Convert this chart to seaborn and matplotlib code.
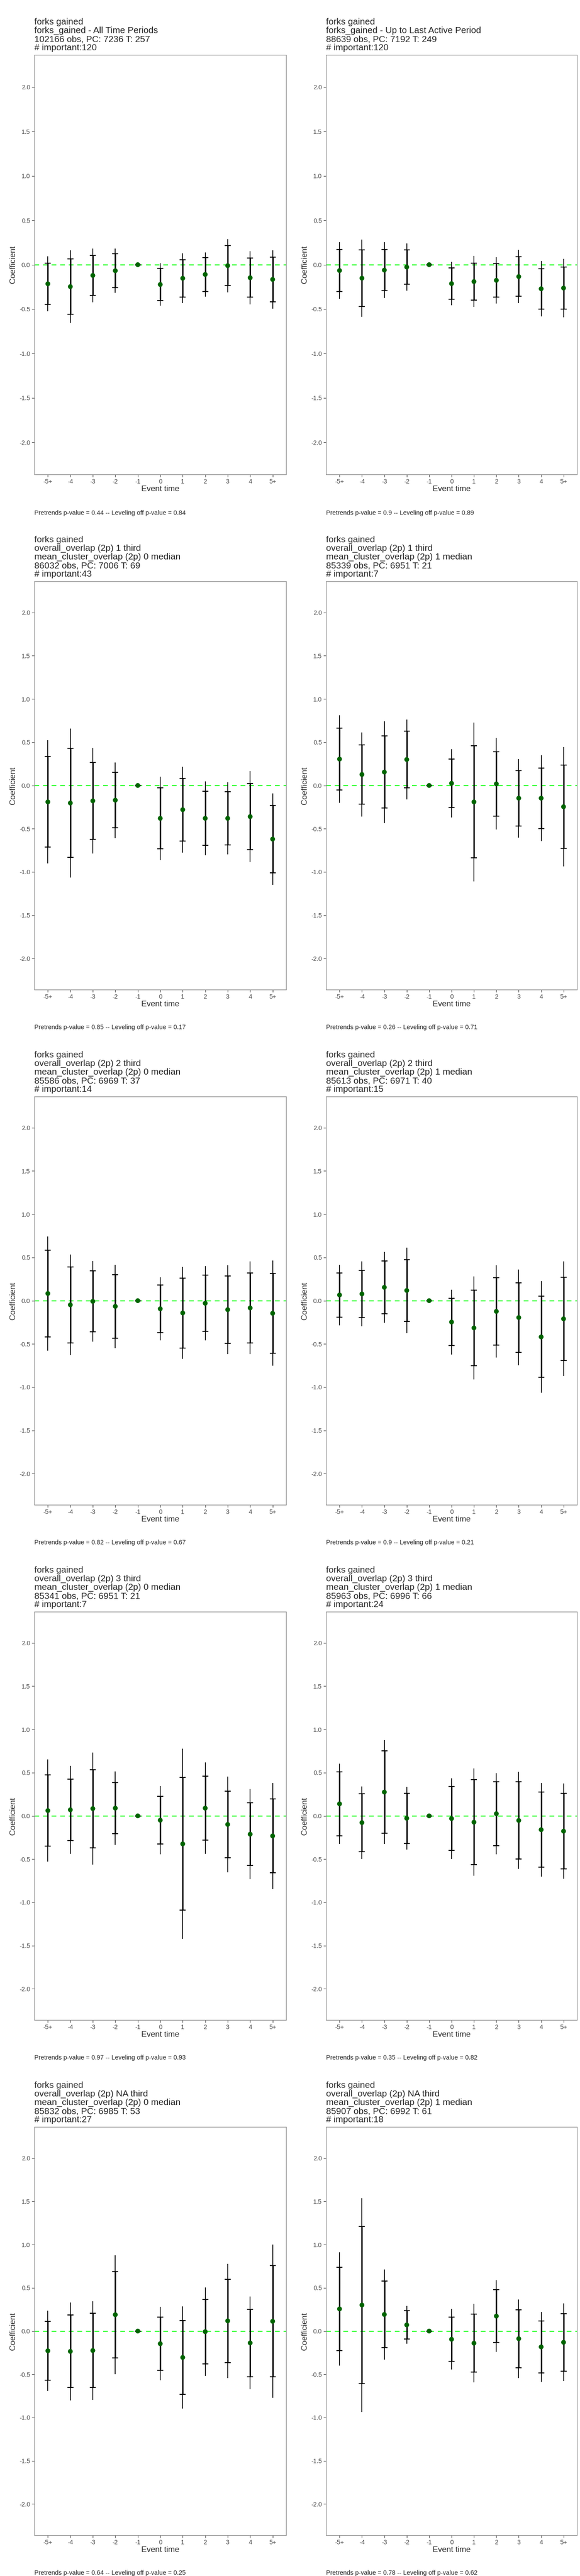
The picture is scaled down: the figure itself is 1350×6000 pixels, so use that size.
import matplotlib
matplotlib.use("Agg")
import matplotlib.pyplot as plt
import seaborn as sns
import pandas as pd

sns.set_theme(style="white")
plt.rcParams['font.family'] = ['Liberation Sans', 'DejaVu Sans']

event_labels = ["-5+", "-4", "-3", "-2", "-1", "0", "1", "2", "3", "4", "5+"]

titles = [
    "forks gained\nforks_gained - All Time Periods\n102166 obs, PC: 7236 T: 257\n# important:120",
    "forks gained\nforks_gained - Up to Last Active Period\n88639 obs, PC: 7192 T: 249\n# important:120",
    "forks gained\noverall_overlap (2p) 1 third\nmean_cluster_overlap (2p) 0 median\n86032 obs, PC: 7006 T: 69\n# important:43",
    "forks gained\noverall_overlap (2p) 1 third\nmean_cluster_overlap (2p) 1 median\n85339 obs, PC: 6951 T: 21\n# important:7",
    "forks gained\noverall_overlap (2p) 2 third\nmean_cluster_overlap (2p) 0 median\n85586 obs, PC: 6969 T: 37\n# important:14",
    "forks gained\noverall_overlap (2p) 2 third\nmean_cluster_overlap (2p) 1 median\n85613 obs, PC: 6971 T: 40\n# important:15",
    "forks gained\noverall_overlap (2p) 3 third\nmean_cluster_overlap (2p) 0 median\n85341 obs, PC: 6951 T: 21\n# important:7",
    "forks gained\noverall_overlap (2p) 3 third\nmean_cluster_overlap (2p) 1 median\n85963 obs, PC: 6996 T: 66\n# important:24",
    "forks gained\noverall_overlap (2p) NA third\nmean_cluster_overlap (2p) 0 median\n85832 obs, PC: 6985 T: 53\n# important:27",
    "forks gained\noverall_overlap (2p) NA third\nmean_cluster_overlap (2p) 1 median\n85907 obs, PC: 6992 T: 61\n# important:18",
]

pretrends_p = ["0.44", "0.9", "0.85", "0.26", "0.82", "0.9", "0.97", "0.35", "0.64", "0.78"]
leveling_p = ["0.84", "0.89", "0.17", "0.71", "0.67", "0.21", "0.93", "0.82", "0.25", "0.62"]

coef_1 = [-0.215, -0.247, -0.121, -0.068, 0, -0.223, -0.153, -0.11, -0.011, -0.147, -0.166]
inner_1 = [0.23, 0.31, 0.226, 0.19, 0, 0.18, 0.21, 0.19, 0.225, 0.22, 0.25]
outer_1 = [0.31, 0.41, 0.30, 0.25, 0, 0.24, 0.28, 0.25, 0.30, 0.30, 0.33]

coef_2 = [-0.066, -0.152, -0.061, -0.027, 0, -0.213, -0.19, -0.176, -0.134, -0.271, -0.263]
inner_2 = [0.236, 0.317, 0.231, 0.194, 0, 0.177, 0.208, 0.19, 0.223, 0.227, 0.238]
outer_2 = [0.32, 0.433, 0.315, 0.265, 0, 0.242, 0.287, 0.26, 0.30, 0.31, 0.328]

coef_3 = [-0.19, -0.203, -0.178, -0.17, 0, -0.38, -0.28, -0.38, -0.38, -0.36, -0.62]
inner_3 = [0.523, 0.63, 0.445, 0.32, 0, 0.352, 0.364, 0.311, 0.306, 0.383, 0.39]
outer_3 = [0.713, 0.863, 0.61, 0.437, 0, 0.48, 0.496, 0.426, 0.418, 0.525, 0.53]

coef_4 = [0.305, 0.127, 0.155, 0.30, 0, 0.025, -0.19, 0.018, -0.147, -0.147, -0.246]
inner_4 = [0.357, 0.343, 0.416, 0.327, 0, 0.28, 0.647, 0.373, 0.32, 0.35, 0.482]
outer_4 = [0.507, 0.485, 0.589, 0.461, 0, 0.394, 0.918, 0.528, 0.454, 0.495, 0.69]

coef_5 = [0.083, -0.048, -0.008, -0.066, 0, -0.094, -0.142, -0.03, -0.104, -0.084, -0.146]
inner_5 = [0.50, 0.44, 0.353, 0.367, 0, 0.275, 0.404, 0.326, 0.39, 0.406, 0.462]
outer_5 = [0.66, 0.58, 0.466, 0.48, 0, 0.363, 0.53, 0.43, 0.515, 0.536, 0.608]

coef_6 = [0.066, 0.078, 0.154, 0.118, 0, -0.247, -0.315, -0.124, -0.195, -0.419, -0.21]
inner_6 = [0.255, 0.273, 0.307, 0.357, 0, 0.272, 0.436, 0.39, 0.402, 0.469, 0.48]
outer_6 = [0.35, 0.375, 0.41, 0.493, 0, 0.374, 0.596, 0.534, 0.554, 0.646, 0.662]

coef_7 = [0.061, 0.07, 0.084, 0.089, 0, -0.05, -0.324, 0.089, -0.099, -0.212, -0.232]
inner_7 = [0.411, 0.354, 0.452, 0.295, 0, 0.275, 0.766, 0.371, 0.386, 0.363, 0.426]
outer_7 = [0.591, 0.509, 0.649, 0.423, 0, 0.393, 1.10, 0.53, 0.553, 0.52, 0.614]

coef_8 = [0.139, -0.078, 0.275, -0.028, 0, -0.031, -0.073, 0.025, -0.053, -0.16, -0.177]
inner_8 = [0.369, 0.334, 0.475, 0.291, 0, 0.371, 0.492, 0.372, 0.447, 0.434, 0.437]
outer_8 = [0.464, 0.42, 0.60, 0.364, 0, 0.466, 0.62, 0.468, 0.56, 0.54, 0.552]

coef_9 = [-0.228, -0.235, -0.225, 0.189, 0, -0.146, -0.305, -0.007, 0.118, -0.137, 0.113]
inner_9 = [0.339, 0.42, 0.43, 0.50, 0, 0.309, 0.428, 0.372, 0.481, 0.39, 0.643]
outer_9 = [0.465, 0.565, 0.57, 0.686, 0, 0.424, 0.59, 0.51, 0.66, 0.536, 0.886]

coef_10 = [0.256, 0.301, 0.192, 0.071, 0, -0.095, -0.14, 0.173, -0.088, -0.183, -0.13]
inner_10 = [0.483, 0.909, 0.384, 0.164, 0, 0.257, 0.336, 0.307, 0.334, 0.299, 0.332]
outer_10 = [0.657, 1.235, 0.52, 0.219, 0, 0.349, 0.455, 0.414, 0.453, 0.406, 0.449]

coefs = [coef_1, coef_2, coef_3, coef_4, coef_5, coef_6, coef_7, coef_8, coef_9, coef_10]
inners = [inner_1, inner_2, inner_3, inner_4, inner_5, inner_6, inner_7, inner_8, inner_9, inner_10]
outers = [outer_1, outer_2, outer_3, outer_4, outer_5, outer_6, outer_7, outer_8, outer_9, outer_10]

W, H = 1350, 6000
fig = plt.figure(figsize=(W / 100, H / 100), dpi=100)

col_x = [(80, 666), (759, 1343)]
row_tops = [128, 1354, 2554, 3754, 4954]
row_bottoms = [1105, 2305, 3505, 4705, 5905]

for i in range(10):
    r, c = divmod(i, 2)
    x0, x1 = col_x[c]
    top, bot = row_tops[r], row_bottoms[r]
    ax = fig.add_axes([x0 / W, 1 - bot / H, (x1 - x0) / W, (bot - top) / H])
    df = pd.DataFrame({"event": event_labels, "pos": range(11),
                       "coef": coefs[i], "inner": inners[i], "outer": outers[i]})
    ax.axhline(0, color="#00ff00", lw=1.6, ls=(0, (5, 4)), zorder=1)
    ax.errorbar(df["pos"], df["coef"], yerr=df["outer"], fmt="none",
                ecolor="black", elinewidth=1.3, capsize=0, zorder=2)
    ax.errorbar(df["pos"], df["coef"], yerr=df["inner"], fmt="none",
                ecolor="black", elinewidth=2.4, capsize=5, capthick=1.6, zorder=3)
    sns.scatterplot(data=df, x="pos", y="coef", ax=ax, color="#006400",
                    s=65, edgecolor="none", zorder=4, legend=False)
    ax.set_xlim(-0.6, 10.6)
    ax.set_ylim(-2.36, 2.36)
    ax.set_xticks(range(11))
    ax.set_xticklabels(event_labels)
    ax.set_yticks([-2, -1.5, -1, -0.5, 0, 0.5, 1, 1.5, 2])
    ax.set_yticklabels(["-2.0", "-1.5", "-1.0", "-0.5", "0.0", "0.5", "1.0", "1.5", "2.0"])
    ax.tick_params(axis="both", which="both", length=4, width=0.8, color="#333333",
                   labelsize=10.5, labelcolor="#4d4d4d", bottom=True, left=True, pad=3)
    for s in ax.spines.values():
        s.set_color("#7f7f7f")
        s.set_linewidth(0.9)
    ax.set_xlabel("Event time", fontsize=13.5, labelpad=2)
    ax.set_ylabel("Coefficient", fontsize=13.5, labelpad=4)
    ax.set_title(titles[i], loc="left", fontsize=15, pad=8, linespacing=1.05)
    ax.text(0, -0.085, f"Pretrends p-value = {pretrends_p[i]} -- Leveling off p-value = {leveling_p[i]}",
            transform=ax.transAxes, ha="left", va="top", fontsize=10.5)

fig.savefig("out.png", dpi=100)
